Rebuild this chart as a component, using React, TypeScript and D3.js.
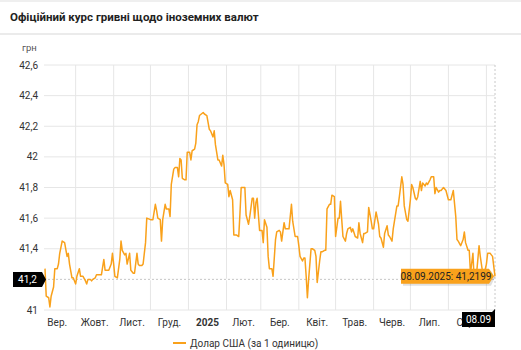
import React from "react";
import * as d3 from "d3";

const START_DATE = "2024-09-06";
const dayOffsets = [0,1,3,4,5,7,8,10,11,12,14,16,18,19,20,22,23,25,26,28,29,31,33,34,35,37,38,39,41,42,43,46,48,49,50,52,54,55,56,57,59,61,62,63,65,66,67,69,70,72,73,75,76,77,79,80,82,83,86,88,90,91,92,94,95,96,98,99,101,102,103,105,106,108,109,110,111,112,114,115,116,118,119,120,122,123,124,125,126,129,130,132,134,135,137,138,139,141,142,144,145,146,147,149,150,151,153,154,156,158,159,160,162,163,164,166,167,169,170,171,172,173,175,177,178,179,181,182,183,185,186,188,189,191,192,193,195,196,198,199,201,202,204,206,207,208,210,211,212,213,214,215,217,218,220,221,222,224,225,226,228,229,230,232,233,234,236,237,239,240,241,242,243,245,246,247,249,250,251,253,255,256,257,259,260,261,263,264,266,267,268,270,272,273,274,276,277,279,280,281,283,284,285,287,288,289,291,292,293,295,296,298,299,300,302,303,304,306,307,308,310,311,312,314,315,317,318,319,321,322,323,325,327,329,331,332,333,335,336,337,339,341,342,343,345,346,347,349,350,351,352,354,355,357,358,360,361,363,364,365,367];
const usdRates = [41.27,41.09,41.08,41.02,41.09,41.15,41.27,41.27,41.30,41.37,41.45,41.44,41.35,41.37,41.30,41.21,41.21,41.17,41.22,41.27,41.22,41.22,41.19,41.17,41.20,41.20,41.19,41.20,41.21,41.23,41.23,41.23,41.33,41.26,41.26,41.26,41.30,41.37,41.30,41.22,41.21,41.33,41.45,41.39,41.36,41.37,41.30,41.37,41.26,41.24,41.24,41.37,41.30,41.29,41.29,41.30,41.44,41.60,41.59,41.59,41.69,41.65,41.60,41.59,41.45,41.59,41.69,41.66,41.66,41.61,41.82,41.92,41.93,41.93,41.87,41.99,41.98,41.86,41.85,41.85,42.03,42.03,41.98,42.04,42.05,42.09,42.21,42.23,42.27,42.29,42.28,42.27,42.18,42.17,42.13,42.17,42.08,41.98,41.98,41.94,42.01,41.95,41.83,41.82,41.74,41.78,41.72,41.49,41.49,41.48,41.63,41.80,41.80,41.80,41.62,41.56,41.61,41.73,41.73,41.60,41.70,41.73,41.52,41.52,41.44,41.59,41.54,41.35,41.27,41.27,41.22,41.46,41.51,41.52,41.51,41.45,41.57,41.53,41.53,41.53,41.69,41.58,41.48,41.48,41.42,41.35,41.32,41.34,41.34,41.22,41.08,41.20,41.40,41.40,41.39,41.35,41.18,41.32,41.38,41.38,41.39,41.39,41.66,41.69,41.69,41.75,41.74,41.48,41.60,41.60,41.71,41.59,41.48,41.45,41.50,41.53,41.54,41.51,41.53,41.48,41.47,41.57,41.50,41.44,41.50,41.50,41.51,41.67,41.58,41.53,41.53,41.64,41.56,41.48,41.47,41.41,41.50,41.55,41.49,41.48,41.45,41.53,41.58,41.68,41.68,41.74,41.87,41.82,41.68,41.59,41.58,41.72,41.82,41.80,41.73,41.72,41.74,41.84,41.78,41.83,41.81,41.83,41.82,41.85,41.87,41.87,41.76,41.80,41.77,41.78,41.78,41.80,41.78,41.72,41.72,41.75,41.78,41.61,41.46,41.45,41.42,41.46,41.51,41.44,41.39,41.39,41.24,41.37,41.20,41.22,41.24,41.42,41.35,41.24,41.23,41.30,41.37,41.37,41.36,41.35,41.2199];

const yTicks = [41, 41.2, 41.4, 41.6, 41.8, 42, 42.2, 42.4, 42.6];
const monthLabels = ["Вер.", "Жовт.", "Лист.", "Груд.", "2025", "Лют.", "Бер.", "Квіт.", "Трав.", "Черв.", "Лип.", "Серп."];
const TITLE = "Офіційний курс гривні щодо іноземних валют";
const UNIT = "грн";
const SERIES_NAME = "Долар США (за 1 одиницю)";
const TOOLTIP_TEXT = "08.09.2025: 41,2199";
const X_CROSS_LABEL = "08.09";
const Y_CROSS_VALUE = 41.2;

const W = 521, H = 350;
const LEFT = 44, RIGHT = 495, TOP = 65, BOTTOM = 310;
const ORANGE = "#f9a11b";
const FONT = "Roboto, 'Noto Sans', sans-serif";

const start = new Date(START_DATE + "T00:00:00Z");
const data = dayOffsets.map((d, i) => ({ date: d3.utcDay.offset(start, d), value: usdRates[i] }));

export default function App() {
  const x = d3.scaleUtc()
    .domain([start, d3.utcDay.offset(start, dayOffsets[dayOffsets.length - 1])])
    .range([45, RIGHT]);
  const y = d3.scaleLinear().domain([41, 42.6]).range([BOTTOM, TOP]);
  const line = d3.line<{ date: Date; value: number }>()
    .x(d => x(d.date))
    .y(d => y(d.value));

  const monthStarts = d3.utcMonth.range(new Date(Date.UTC(2024, 8, 1)), new Date(Date.UTC(2025, 7, 2)));
  const gridMonths = d3.utcMonth.range(new Date(Date.UTC(2024, 9, 1)), new Date(Date.UTC(2025, 8, 2)))
    .filter(m => x(m) >= LEFT && x(m) <= RIGHT);
  const fmt = (v: number) => d3.format("~g")(+v.toFixed(1)).replace(".", ",");

  const last = data[data.length - 1];
  const lx = x(last.date);
  const ly = y(last.value);
  const cy = y(Y_CROSS_VALUE);

  return (
    <svg width={W} height={H} style={{ position: "absolute", left: 0, top: 0, background: "#fff" }} fontFamily={FONT}>
      <rect x={0} y={0} width={W} height={2} fill="#efefef" />
      <text x={10} y={21} fontSize={11.5} fontWeight={700} fill="#222">{TITLE}</text>
      <rect x={0} y={33} width={W} height={2} fill="#ebebeb" />
      <text x={22} y={51} fontSize={9.5} fill="#555">{UNIT}</text>

      {yTicks.map(t => (
        <g key={t}>
          <line x1={LEFT} x2={RIGHT} y1={y(t)} y2={y(t)} stroke="#e6e6e6" strokeWidth={1} />
          <text x={38} y={y(t)} dy="0.35em" textAnchor="end" fontSize={10} fill="#333">{fmt(t)}</text>
        </g>
      ))}
      {gridMonths.map(m => (
        <line key={+m} x1={x(m)} x2={x(m)} y1={TOP} y2={BOTTOM} stroke="#e6e6e6" strokeWidth={1} />
      ))}
      {monthStarts.map((m, i) => {
        const next = d3.utcMonth.offset(m, 1);
        const cx = (x(m) + x(next)) / 2 + (i === 11 ? 2 : 0);
        return (
          <text key={"l" + i} x={cx} y={326} textAnchor="middle" fontSize={10}
            fontWeight={monthLabels[i] === "2025" ? 700 : 400} fill="#333">{monthLabels[i]}</text>
        );
      })}

      <line x1={LEFT} x2={RIGHT} y1={cy} y2={cy} stroke="#fff" strokeWidth={1.5} />
      <line x1={LEFT} x2={RIGHT} y1={cy} y2={cy} stroke="#c8c8c8" strokeWidth={1} strokeDasharray="2,2" />
      <line x1={lx} x2={lx} y1={TOP} y2={312} stroke="#c8c8c8" strokeWidth={1} strokeDasharray="2,2" />

      <path d={line(data) ?? ""} fill="none" stroke={ORANGE} strokeWidth={1.5} strokeLinejoin="round" />

      <path d={`M13,${cy - 7.5}H42L46,${cy}L42,${cy + 7.5}H13Z`} fill="#000" />
      <text x={27.5} y={cy} dy="0.35em" textAnchor="middle" fontSize={10} fill="#fff">{fmt(Y_CROSS_VALUE)}</text>

      <path d={`M462,312H${lx - 3}L${lx},309V327H462Z`} fill="#000" />
      <text x={478.5} y={319.5} dy="0.35em" textAnchor="middle" fontSize={10} fill="#fff">{X_CROSS_LABEL}</text>

      <g>
        <path d={`M402,${ly - 6.5}H${lx - 5}L${lx - 1},${ly}L${lx - 5},${ly + 8.5}H402Z`} fill="rgba(0,0,0,0.12)" transform="translate(1,1)" />
        <path d={`M401,${ly - 7.5}H${lx - 6}L${lx - 1},${ly}L${lx - 6},${ly + 7.5}H401Z`} fill={ORANGE} />
        <text x={446} y={ly} dy="0.35em" textAnchor="middle" fontSize={10} fill="#222">{TOOLTIP_TEXT}</text>
      </g>

      <line x1={173} x2={186} y1={343} y2={343} stroke={ORANGE} strokeWidth={2} />
      <text x={190} y={343} dy="0.35em" fontSize={10} fill="#333">{SERIES_NAME}</text>
    </svg>
  );
}
